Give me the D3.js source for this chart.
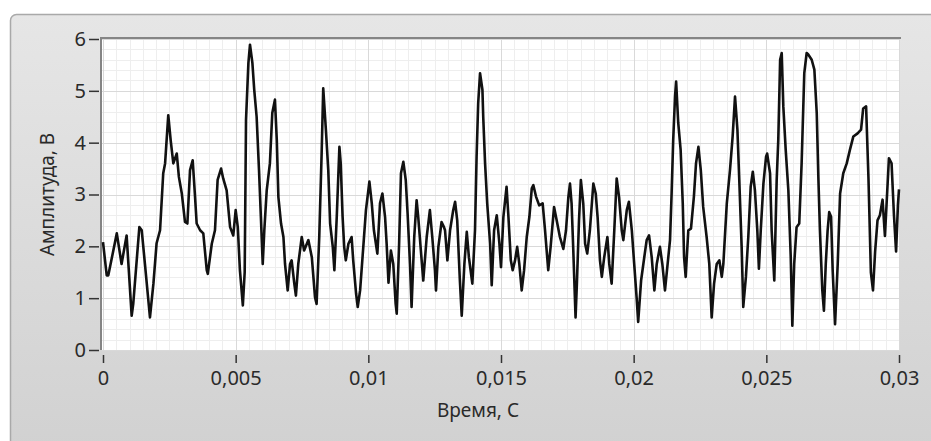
<!DOCTYPE html>
<html>
<head>
<meta charset="utf-8">
<script src="https://cdn.jsdelivr.net/npm/d3@7"></script>
<style>
  html, body { margin: 0; padding: 0; background: #ffffff; }
  svg { display: block; }
  text { font-family: "Noto Sans", "Open Sans", sans-serif; }
</style>
</head>
<body>
<svg id="chart" width="931" height="441"></svg>
<script>
// ---- data (time in milliseconds, amplitude in volts) ----
const timeMs = [
  0.00,0.14,0.20,0.52,0.70,0.89,1.08,1.14,1.37,1.46,1.58,1.77,1.90,2.02,2.15,2.27,2.34,2.46,2.55,2.65,
  2.78,2.86,2.97,3.09,3.18,3.28,3.38,3.47,3.53,3.66,3.78,3.91,3.95,4.10,4.22,4.32,4.45,4.53,4.66,4.79,
  4.91,5.00,5.08,5.16,5.27,5.34,5.39,5.48,5.54,5.63,5.70,5.79,5.88,5.95,6.02,6.08,6.17,6.29,6.38,6.48,
  6.55,6.61,6.71,6.80,6.86,6.96,7.05,7.11,7.21,7.27,7.36,7.49,7.58,7.74,7.87,7.99,8.05,8.15,8.24,8.30,
  8.40,8.49,8.56,8.66,8.72,8.81,8.91,8.96,9.03,9.09,9.15,9.25,9.37,9.43,9.54,9.60,9.69,9.81,9.91,10.04,
  10.13,10.21,10.34,10.44,10.53,10.63,10.69,10.76,10.85,10.94,11.03,11.07,11.16,11.23,11.32,11.41,11.48,11.57,11.63,11.73,
  11.82,11.88,11.98,12.07,12.20,12.32,12.41,12.51,12.55,12.64,12.76,12.85,12.89,12.98,13.08,13.20,13.27,13.35,13.45,13.52,
  13.62,13.71,13.79,13.92,14.02,14.08,14.14,14.21,14.30,14.33,14.40,14.48,14.59,14.65,14.74,14.84,14.94,15.00,15.09,15.21,
  15.28,15.37,15.44,15.53,15.61,15.69,15.78,15.87,15.97,16.07,16.16,16.22,16.32,16.44,16.57,16.66,16.78,16.87,17.00,17.10,
  17.22,17.35,17.45,17.54,17.60,17.66,17.72,17.81,17.86,17.94,18.01,18.10,18.17,18.25,18.35,18.48,18.57,18.64,18.73,18.80,
  18.89,19.01,19.08,19.17,19.27,19.36,19.45,19.55,19.61,19.74,19.82,19.93,20.02,20.11,20.17,20.28,20.40,20.49,20.58,20.68,
  20.78,20.87,20.99,21.08,21.18,21.28,21.37,21.43,21.49,21.56,21.60,21.68,21.77,21.85,21.90,21.96,22.06,22.16,22.27,22.35,
  22.44,22.53,22.62,22.75,22.85,22.94,23.03,23.13,23.23,23.32,23.38,23.51,23.63,23.73,23.82,23.91,23.98,24.07,24.13,24.23,
  24.32,24.41,24.49,24.57,24.66,24.72,24.79,24.89,24.99,25.03,25.14,25.20,25.30,25.39,25.45,25.52,25.58,25.64,25.73,25.83,
  25.92,25.98,26.05,26.14,26.24,26.33,26.43,26.52,26.58,26.71,26.81,26.90,26.96,27.02,27.11,27.17,27.24,27.31,27.37,27.44,
  27.50,27.59,27.69,27.78,27.90,28.03,28.15,28.28,28.44,28.57,28.65,28.76,28.85,28.94,29.02,29.10,29.19,29.28,29.38,29.47,
  29.55,29.62,29.72,29.81,29.89,29.96,30.00
];
const amplitude = [
  2.08,1.44,1.44,2.25,1.66,2.21,0.66,0.89,2.37,2.31,1.66,0.63,1.28,2.06,2.31,3.41,3.60,4.53,4.05,3.60,
  3.79,3.34,3.02,2.47,2.44,3.47,3.66,2.95,2.44,2.31,2.25,1.54,1.47,2.05,2.31,3.28,3.50,3.31,3.08,2.37,
  2.21,2.70,2.37,1.54,0.86,1.50,4.44,5.54,5.89,5.54,5.02,4.50,3.47,2.57,1.66,2.31,3.08,3.60,4.57,4.83,
  4.05,2.95,2.44,2.18,1.66,1.15,1.66,1.73,1.28,1.05,1.66,2.18,1.92,2.12,1.79,1.02,0.89,2.18,3.79,5.05,
  4.25,3.47,2.44,1.99,1.54,2.57,3.92,3.60,2.57,1.99,1.73,2.05,2.18,1.73,1.08,0.83,1.15,1.99,2.70,3.25,
  2.83,2.31,1.86,2.83,3.02,2.57,2.05,1.30,1.92,1.66,0.89,0.70,2.05,3.41,3.63,3.28,2.63,1.66,0.83,2.18,
  2.89,2.57,1.92,1.34,2.18,2.70,2.18,1.54,1.15,1.99,2.47,2.37,2.31,1.73,2.31,2.70,2.86,2.50,1.34,0.66,
  1.66,2.28,1.79,1.28,2.31,3.73,4.76,5.34,5.02,4.50,3.60,2.83,2.05,1.25,2.31,2.60,2.05,1.60,2.57,3.15,
  2.57,1.73,1.54,1.73,1.99,1.66,1.15,1.54,2.18,2.57,3.12,3.18,2.96,2.79,2.83,2.31,1.54,1.99,2.76,2.50,
  2.18,1.95,2.31,2.96,3.21,2.83,1.99,0.63,1.28,2.50,3.28,2.83,2.05,1.86,2.31,3.21,3.02,2.57,1.73,1.41,
  1.79,2.18,1.66,1.28,2.31,3.31,2.95,2.31,2.12,2.70,2.86,2.31,1.66,1.02,0.54,1.34,1.79,2.12,2.21,1.79,
  1.15,1.66,1.99,1.66,1.15,1.66,2.12,3.02,4.05,4.90,5.18,4.38,3.86,2.83,1.79,1.41,2.31,2.34,2.96,3.60,
  3.92,3.47,2.76,2.18,1.66,0.63,1.28,1.66,1.73,1.41,1.66,2.83,3.47,4.12,4.89,4.25,3.28,1.99,0.83,1.41,
  2.18,3.15,3.44,3.08,2.31,1.57,2.31,3.21,3.73,3.79,3.41,2.31,1.34,3.28,4.05,5.60,5.73,4.70,3.86,3.08,
  1.79,0.47,1.66,2.37,2.44,3.60,5.34,5.73,5.70,5.60,5.41,4.57,3.34,2.31,1.15,0.76,1.66,2.31,2.66,2.57,
  1.54,0.50,1.66,3.02,3.41,3.60,3.86,4.12,4.18,4.25,4.66,4.70,3.30,1.50,1.15,1.90,2.50,2.60,2.90,2.20,
  3.00,3.70,3.60,2.60,1.90,2.80,3.10
];
const xTickValues = [0, 0.005, 0.01, 0.015, 0.02, 0.025, 0.03];
const yTickValues = [0, 1, 2, 3, 4, 5, 6];
const xTitle = "Время, С";
const yTitle = "Амплитуда, В";

// ---- layout ----
const W = 931, H = 441;
const plot = { left: 102, right: 900, top: 39, bottom: 350 };

const svg = d3.select("#chart");
const defs = svg.append("defs");
const grad = defs.append("linearGradient").attr("id", "panelGrad")
  .attr("x1", 0).attr("y1", 0).attr("x2", 0).attr("y2", 1);
grad.append("stop").attr("offset", "0%").attr("stop-color", "#e6e6e6");
grad.append("stop").attr("offset", "100%").attr("stop-color", "#d0d0d0");

// panel frame
svg.append("rect")
  .attr("x", 10.5).attr("y", 14.5).attr("width", 960).attr("height", 460)
  .attr("rx", 6).attr("ry", 6)
  .attr("fill", "url(#panelGrad)")
  .attr("stroke", "#a9a9a9").attr("stroke-width", 1.5);

const x = d3.scaleLinear().domain([0, 0.03]).range([plot.left + 1, plot.right - 1]);
const y = d3.scaleLinear().domain([0, 6]).range([plot.bottom, plot.top]);

// plot background
svg.append("rect")
  .attr("x", plot.left).attr("y", plot.top - 1)
  .attr("width", plot.right - plot.left).attr("height", plot.bottom - plot.top + 1)
  .attr("fill", "#ffffff");

const grid = svg.append("g");
const minorX = d3.range(0, 61).map(i => i * 0.0005);
const minorY = d3.range(0, 31).map(i => i * 0.2);
grid.selectAll(".mx").data(minorX).join("line")
  .attr("x1", d => Math.round(x(d)) + 0.5).attr("x2", d => Math.round(x(d)) + 0.5)
  .attr("y1", plot.top).attr("y2", plot.bottom)
  .attr("stroke", "#eeeeee").attr("stroke-width", 1);
grid.selectAll(".my").data(minorY).join("line")
  .attr("y1", d => Math.round(y(d)) + 0.5).attr("y2", d => Math.round(y(d)) + 0.5)
  .attr("x1", plot.left).attr("x2", plot.right)
  .attr("stroke", "#eeeeee").attr("stroke-width", 1);
grid.selectAll(".Mx").data(xTickValues).join("line")
  .attr("x1", d => Math.round(x(d)) + 0.5).attr("x2", d => Math.round(x(d)) + 0.5)
  .attr("y1", plot.top).attr("y2", plot.bottom)
  .attr("stroke", "#d9d9d9").attr("stroke-width", 1);
grid.selectAll(".My").data(yTickValues).join("line")
  .attr("y1", d => Math.round(y(d)) + 0.5).attr("y2", d => Math.round(y(d)) + 0.5)
  .attr("x1", plot.left).attr("x2", plot.right)
  .attr("stroke", "#d9d9d9").attr("stroke-width", 1);

// plot sunken border (top & left)
svg.append("line").attr("x1", plot.left - 1).attr("x2", plot.right + 1)
  .attr("y1", plot.top - 1).attr("y2", plot.top - 1)
  .attr("stroke", "#858585").attr("stroke-width", 2);
svg.append("line").attr("x1", plot.left - 1).attr("x2", plot.left - 1)
  .attr("y1", plot.top - 2).attr("y2", plot.bottom)
  .attr("stroke", "#858585").attr("stroke-width", 2);

// data line
const data = timeMs.map((t, i) => ({ t: t / 1000, v: amplitude[i] }));
svg.append("path")
  .datum(data)
  .attr("fill", "none")
  .attr("stroke", "#111111")
  .attr("stroke-width", 2.6)
  .attr("stroke-linejoin", "round")
  .attr("d", d3.line().x(d => x(d.t)).y(d => y(d.v)));

// axes
const locale = d3.formatLocale({ decimal: ",", thousands: " ", grouping: [3], currency: ["", ""] });
const fmt = locale.format("~g");

const xAxis = svg.append("g")
  .attr("transform", `translate(0,${plot.bottom + 5})`)
  .call(d3.axisBottom(x).tickValues(xTickValues).tickFormat(fmt).tickSize(8).tickPadding(8));
xAxis.select(".domain").remove();
xAxis.selectAll(".tick line").attr("stroke", "#333").attr("stroke-width", 1.5);
xAxis.selectAll(".tick text").attr("fill", "#2a2a2a").attr("font-size", 20)
  .attr("font-family", "'Noto Sans', 'Open Sans', sans-serif");

const yAxis = svg.append("g")
  .attr("transform", `translate(${plot.left - 3},0)`)
  .call(d3.axisLeft(y).tickValues(yTickValues).tickFormat(fmt).tickSize(10).tickPadding(3));
yAxis.select(".domain").remove();
yAxis.selectAll(".tick line").attr("stroke", "#333").attr("stroke-width", 1.5);
yAxis.selectAll(".tick text").attr("fill", "#2a2a2a").attr("font-size", 20)
  .attr("font-family", "'Noto Sans', 'Open Sans', sans-serif");

// titles
svg.append("text")
  .attr("x", 478).attr("y", 417)
  .attr("text-anchor", "middle")
  .attr("font-size", 19).attr("fill", "#2a2a2a")
  .text(xTitle);
svg.append("text")
  .attr("transform", `translate(54,${(plot.top + plot.bottom) / 2}) rotate(-90)`)
  .attr("text-anchor", "middle")
  .attr("font-size", 19).attr("fill", "#2a2a2a")
  .text(yTitle);
</script>
</body>
</html>
